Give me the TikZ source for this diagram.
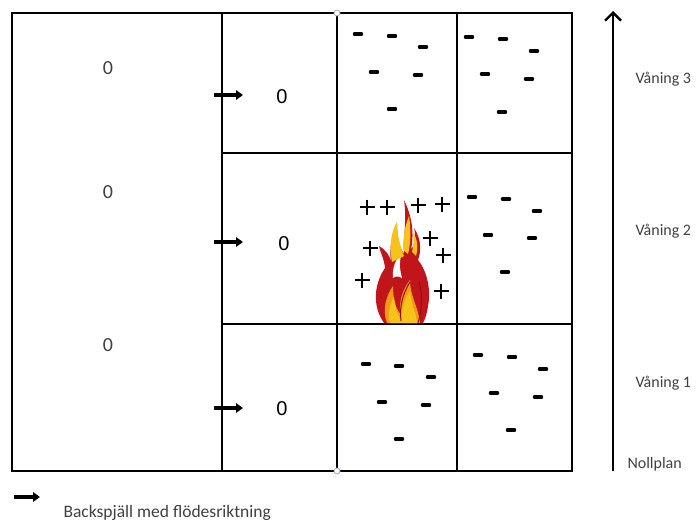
\documentclass[tikz,border=0pt]{standalone}
\usepackage{fontspec}
\setmainfont{Carlito}
\newfontfamily\arialfont{Liberation Sans}
\usetikzlibrary{arrows.meta}

\definecolor{labelgray}{HTML}{404040}
\definecolor{flamered}{HTML}{C0161B}
\definecolor{flamedark}{HTML}{8E0E12}
\definecolor{flameyellow}{HTML}{F7C21A}
\definecolor{flameorange}{HTML}{F29A17}
\definecolor{jointblue}{HTML}{A9B8C6}

\begin{document}
\begin{tikzpicture}[x=1pt,y=-1pt,
  wall/.style={line width=2.6pt, black},
  zerolabel/.style={font=\fontsize{20}{20}\selectfont, text=labelgray},
  roomzero/.style={font=\arialfont\fontsize{20}{20}\selectfont, text=black},
  floorlabel/.style={font=\fontsize{16}{16}\selectfont, text=labelgray, anchor=west},
  legendlabel/.style={font=\fontsize{17.5}{17.5}\selectfont, text=labelgray, anchor=base west},
  damper/.style={line width=3.8pt, -{Triangle[length=7pt,width=9.5pt]}},
  heightaxis/.style={line width=2.4pt, -{Straight Barb[length=8pt,width=16pt,line width=2.4pt]}},
  minusmark/.style={line width=3.2pt, line cap=round},
  plusmark/.style={line width=2.3pt},
  joint/.style={circle, draw=jointblue, fill=white, line width=0.9pt, inner sep=0pt, minimum size=6pt}]

\useasboundingbox (0,0) rectangle (697,522);

% building section: tall shaft on the left, three storeys of rooms on the right
\draw[wall] (12,13) rectangle (572,471);
\draw[wall] (222,13) -- (222,471);
\draw[wall] (337,13) -- (337,471);
\draw[wall] (457,13) -- (457,471);
\draw[wall] (222,153) -- (572,153);
\draw[wall] (222,324) -- (572,324);

% joints of the fire cell's wall line
\node[joint] (jtop) at (337,13) {};
\node[joint] (jbot) at (337,471) {};

% pressure in the shaft
\node[zerolabel] (s3) at (108,68) {0};
\node[zerolabel] (s2) at (108,192) {0};
\node[zerolabel] (s1) at (108,345) {0};

% pressure in the rooms next to the shaft
\node[roomzero] (r3) at (282,97) {0};
\node[roomzero] (r2) at (284,244) {0};
\node[roomzero] (r1) at (282,409) {0};

% non-return dampers with their flow direction
\coordinate (d3a) at (214,95);  \coordinate (d3b) at (243,95);
\coordinate (d2a) at (214,242); \coordinate (d2b) at (243,242);
\coordinate (d1a) at (214,408); \coordinate (d1b) at (243,408);
\draw[damper] (d3a) -- (d3b);
\draw[damper] (d2a) -- (d2b);
\draw[damper] (d1a) -- (d1b);

% underpressure in the unaffected rooms
\foreach \x/\y in {358/34, 392/36, 423/47, 374/72, 418/75, 392/109,
                   469/37, 503/39, 534/51, 485/74, 529/79, 502/112,
                   472/197, 506/199, 537/211, 488/235, 532/238, 505/272,
                   366/364, 399/366, 431/377, 382/402, 426/405, 399/439,
                   478/355, 512/357, 543/369, 494/393, 538/397, 511/430}
  \draw[minusmark] (\x,\y) +(-3.6,0) -- +(3.6,0);

% overpressure in the burning room
\foreach \x/\y in {367/207, 387/207, 418/205, 442/204, 370/248,
                   430/238, 443/255, 362/280, 441/291}
  \draw[plusmark] (\x,\y) +(-7.5,0) -- +(7.5,0) +(0,-7.5) -- +(0,7.5);

% the fire
\fill[flamered] (384,323) .. controls (372,306) and (374,284) .. (385,268)
  .. controls (384,258) and (380,252) .. (379,246)
  .. controls (386,250) and (390,256) .. (391,262)
  .. controls (389,248) and (392,234) .. (397,224)
  .. controls (397,238) and (400,248) .. (404,254)
  .. controls (403,238) and (407,220) .. (404,200)
  .. controls (413,218) and (414,236) .. (411,250)
  .. controls (415,244) and (416,236) .. (414,228)
  .. controls (422,240) and (421,252) .. (418,260)
  .. controls (428,272) and (431,292) .. (428,306)
  .. controls (427,314) and (425,319) .. (423,323) -- cycle;
\fill[white] (393,278) .. controls (392,267) and (396,259) .. (401,255)
  .. controls (399,265) and (400,271) .. (402,278)
  .. controls (399,276) and (395,276) .. (393,278) -- cycle;
\fill[flameyellow] (392,262) .. controls (389,246) and (391,232) .. (397,222)
  .. controls (397,238) and (401,248) .. (404,256) -- cycle;
\fill[flameyellow] (403,250) .. controls (403,236) and (405,226) .. (409,216)
  .. controls (411,230) and (411,242) .. (408,254) -- cycle;
\fill[flameyellow] (412,252) .. controls (414,244) and (414,238) .. (413,232)
  .. controls (418,240) and (418,248) .. (416,256) -- cycle;
\fill[flameorange] (387,323) .. controls (382,310) and (386,296) .. (393,286)
  .. controls (393,300) and (396,308) .. (400,314)
  .. controls (399,300) and (403,289) .. (410,280)
  .. controls (410,296) and (418,306) .. (420,323) -- cycle;
\fill[flameyellow] (390,323) .. controls (387,314) and (390,304) .. (394,297)
  .. controls (395,308) and (398,315) .. (401,320)
  .. controls (402,307) and (405,298) .. (410,291)
  .. controls (411,304) and (416,313) .. (417,323) -- cycle;
\draw[flamedark, line width=1pt] (401,321) .. controls (399,307) and (403,293) .. (410,282);
\draw[flamedark, line width=1pt] (418,323) .. controls (422,310) and (423,294) .. (419,282);

% height axis with the storey names
\coordinate (axisfoot) at (613,471);
\coordinate (axistop) at (613,11);
\draw[heightaxis] (axisfoot) -- (axistop);
\node[floorlabel] (f3) at (632,79) {Våning 3};
\node[floorlabel] (f2) at (632,231) {Våning 2};
\node[floorlabel] (f1) at (632,383) {Våning 1};
\node[floorlabel] (f0) at (624,464) {Nollplan};

% legend
\coordinate (leg1) at (14,497);
\coordinate (leg2) at (40,497);
\draw[damper] (leg1) -- (leg2);
\node[legendlabel] (legtext) at (60,517) {Backspjäll med flödesriktning};
\end{tikzpicture}
\end{document}
